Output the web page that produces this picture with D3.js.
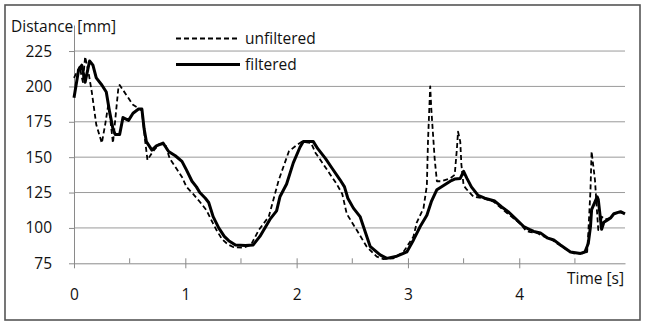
<!DOCTYPE html>
<html>
<head>
<meta charset="utf-8">
<script src="https://cdn.jsdelivr.net/npm/d3@7"></script>
<style>
  html, body { margin: 0; padding: 0; background: #fff; }
  svg text { font-family: "Open Sans", sans-serif; fill: #111; }
</style>
</head>
<body>
<div id="chart"></div>
<script>
// values
const timeFiltered = [0.00, 0.04, 0.07, 0.10, 0.14, 0.17, 0.20, 0.25, 0.29, 0.32, 0.35, 0.37, 0.41, 0.44, 0.49, 0.53, 0.58, 0.61, 0.63, 0.65,
  0.70, 0.74, 0.80, 0.85, 0.91, 0.97, 1.01, 1.06, 1.10, 1.13, 1.18, 1.21, 1.25, 1.30, 1.35, 1.39, 1.45, 1.54, 1.61, 1.67,
  1.76, 1.82, 1.85, 1.91, 1.97, 2.03, 2.06, 2.15, 2.19, 2.26, 2.32, 2.39, 2.43, 2.46, 2.51, 2.57, 2.60, 2.66, 2.75, 2.81,
  2.90, 2.99, 3.05, 3.11, 3.17, 3.21, 3.26, 3.32, 3.38, 3.42, 3.47, 3.50, 3.53, 3.57, 3.63, 3.69, 3.78, 3.84, 3.90, 3.98,
  4.04, 4.09, 4.13, 4.19, 4.25, 4.31, 4.37, 4.46, 4.55, 4.59, 4.62, 4.64, 4.65, 4.70, 4.71, 4.73, 4.74, 4.76, 4.79, 4.82,
  4.85, 4.91, 4.95];
const filtered = [192, 211, 215, 203, 218, 215, 206, 201, 196, 182, 170, 166, 166, 178, 176, 181, 184, 184, 170, 161,
  155, 158, 160, 154, 151, 147, 141, 133, 129, 125, 121, 118, 108, 100, 94, 91, 88, 87.5, 88, 94,
  106, 112, 122, 131, 146, 157, 161, 161, 156, 149, 142, 134, 129, 121, 114, 108, 101, 87, 81, 78.5,
  80, 83, 91.5, 101, 109, 118.5, 127, 130, 133, 134.5, 135, 140, 135, 129, 123, 121, 119, 115, 111.5, 105.5,
  101, 99, 97.5, 96.5, 93, 91.5, 88, 83, 82, 83, 89, 101, 113, 122, 120, 106, 99, 104, 105.5, 107,
  110, 111.5, 110];

const timeUnfiltered = [0.00, 0.05, 0.08, 0.10, 0.13, 0.16, 0.20, 0.25, 0.28, 0.31, 0.35, 0.40, 0.41, 0.47, 0.53, 0.61, 0.64, 0.66, 0.70, 0.76,
  0.82, 0.86, 0.92, 0.97, 1.01, 1.07, 1.13, 1.19, 1.25, 1.28, 1.33, 1.38, 1.43, 1.52, 1.59, 1.66, 1.75, 1.84, 1.93, 2.00,
  2.05, 2.13, 2.17, 2.24, 2.30, 2.36, 2.41, 2.45, 2.54, 2.63, 2.72, 2.78, 2.87, 2.96, 3.05, 3.08, 3.14, 3.17, 3.18, 3.20,
  3.21, 3.24, 3.26, 3.30, 3.38, 3.42, 3.44, 3.45, 3.47, 3.48, 3.50, 3.53, 3.59, 3.68, 3.77, 3.86, 3.93, 4.01, 4.06, 4.10,
  4.16, 4.22, 4.28, 4.34, 4.43, 4.49, 4.58, 4.61, 4.62, 4.64, 4.65, 4.68, 4.70, 4.71, 4.73, 4.74, 4.77, 4.82, 4.85, 4.91,
  4.95];
const unfiltered = [206, 214, 203, 221, 210, 196, 173, 160, 173, 188, 160, 200, 201, 194, 187, 183, 161, 148, 153, 159,
  159, 149, 142, 136, 129, 124, 118.5, 112.5, 103, 98.5, 92, 88.5, 86.5, 86, 88, 98.5, 108, 134, 154, 158.5,
  161, 160, 153, 145, 138, 131, 124, 110, 98.5, 86.7, 79.7, 78, 78.5, 83, 94, 104, 114, 130, 161, 200,
  184, 149, 133, 133, 135, 137.5, 156, 168, 161, 145, 130, 127, 122, 121, 118.5, 112.5, 108, 103, 98, 97,
  96.5, 94, 92.5, 89, 84.5, 82, 82, 83, 96, 127, 154, 134, 110, 98.5, 100, 108, 106, 107, 110, 111,
  110];

const yTicks = [75, 100, 125, 150, 175, 200, 225];
const xTicks = [0, 1, 2, 3, 4];
const xMinorTicks = [0.5, 1.5, 2.5, 3.5, 4.5];
const legendLabels = ['unfiltered', 'filtered'];

const W = 646, H = 322;
const FS = 15.5;
const svg = d3.select('#chart').append('svg')
  .attr('width', W)
  .attr('height', H);

// outer frame
svg.append('rect')
  .attr('x', 5).attr('y', 5)
  .attr('width', 635).attr('height', 315)
  .attr('fill', '#fff')
  .attr('stroke', '#555')
  .attr('stroke-width', 1.6);

const x = d3.scaleLinear().domain([0, 4.95]).range([74, 625]);
const y = d3.scaleLinear().domain([75, 243.4]).range([263.3, 25]);

// gridlines
svg.append('g')
  .selectAll('line')
  .data(yTicks.filter(d => d > 75))
  .join('line')
  .attr('x1', x(0)).attr('x2', x(4.95))
  .attr('y1', d => y(d)).attr('y2', d => y(d))
  .attr('stroke', '#9a9a9a')
  .attr('stroke-width', 1);

// y axis
const yAxis = svg.append('g')
  .attr('transform', `translate(${x(0)},0)`)
  .call(d3.axisLeft(y).tickValues(yTicks).tickSize(5).tickSizeOuter(0).tickPadding(17));
yAxis.select('.domain').attr('stroke', '#8a8a8a');
yAxis.selectAll('.tick line').attr('stroke', '#8a8a8a');
yAxis.selectAll('text')
  .attr('font-size', FS)
  .attr('font-family', '"Open Sans", sans-serif')
  .attr('fill', '#111');

// x axis
const xAxis = svg.append('g')
  .attr('transform', `translate(0,${y(75)})`)
  .call(d3.axisBottom(x).tickValues(xTicks).tickSize(5).tickSizeOuter(0).tickPadding(21).tickFormat(d3.format('d')));
xAxis.select('.domain').attr('stroke', '#8a8a8a');
xAxis.selectAll('.tick line').attr('stroke', '#8a8a8a').attr('y1', -5);
xAxis.selectAll('text')
  .attr('font-size', FS)
  .attr('font-family', '"Open Sans", sans-serif')
  .attr('fill', '#111');

svg.append('g')
  .selectAll('line')
  .data(xMinorTicks)
  .join('line')
  .attr('x1', d => x(d)).attr('x2', d => x(d))
  .attr('y1', y(75) - 5).attr('y2', y(75))
  .attr('stroke', '#8a8a8a');

// axis titles
svg.append('text')
  .attr('x', 11).attr('y', 32)
  .attr('font-size', FS)
  .text('Distance [mm]');

svg.append('text')
  .attr('x', 624).attr('y', 284)
  .attr('text-anchor', 'end')
  .attr('font-size', FS)
  .text('Time [s]');

// series
const line = d3.line()
  .x(d => x(d[0]))
  .y(d => y(d[1]));

svg.append('path')
  .datum(d3.zip(timeUnfiltered, unfiltered))
  .attr('d', line)
  .attr('fill', 'none')
  .attr('stroke', '#000')
  .attr('stroke-width', 1.8)
  .attr('stroke-dasharray', '5,3')
  .attr('stroke-linejoin', 'round');

svg.append('path')
  .datum(d3.zip(timeFiltered, filtered))
  .attr('d', line)
  .attr('fill', 'none')
  .attr('stroke', '#000')
  .attr('stroke-width', 3)
  .attr('stroke-linejoin', 'round');

// legend
const legend = svg.append('g');
const legendRows = [
  { label: legendLabels[0], y: 38.5, dash: '5,3', width: 1.8 },
  { label: legendLabels[1], y: 64.5, dash: null, width: 3 },
];
legendRows.forEach(r => {
  legend.append('line')
    .attr('x1', 176).attr('x2', 240)
    .attr('y1', r.y).attr('y2', r.y)
    .attr('stroke', '#000')
    .attr('stroke-width', r.width)
    .attr('stroke-dasharray', r.dash);
  legend.append('text')
    .attr('x', 245).attr('y', r.y + 5)
    .attr('font-size', FS)
    .text(r.label);
});
</script>
</body>
</html>
